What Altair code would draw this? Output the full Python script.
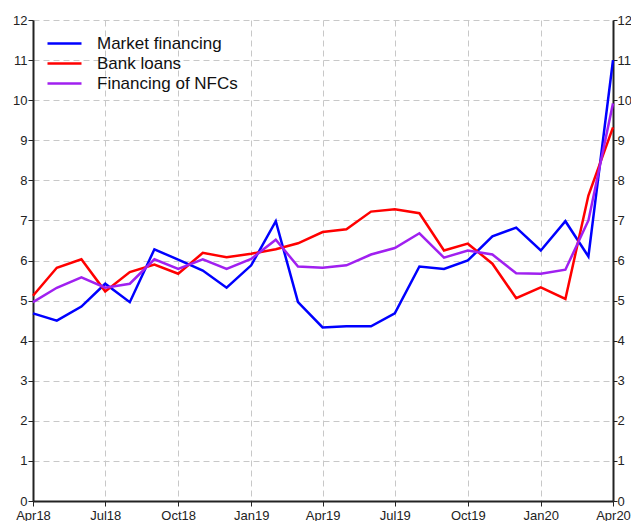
import altair as alt
import pandas as pd

months = [
    "2018-04", "2018-05", "2018-06", "2018-07", "2018-08", "2018-09",
    "2018-10", "2018-11", "2018-12", "2019-01", "2019-02", "2019-03",
    "2019-04", "2019-05", "2019-06", "2019-07", "2019-08", "2019-09",
    "2019-10", "2019-11", "2019-12", "2020-01", "2020-02", "2020-03", "2020-04",
]
market_financing = [4.68, 4.50, 4.85, 5.42, 4.96, 6.28, 6.02, 5.75, 5.32, 5.88, 6.98, 4.96,
                    4.33, 4.36, 4.36, 4.68, 5.85, 5.79, 6.00, 6.60, 6.82, 6.25, 6.98, 6.10, 11.00]
bank_loans = [5.12, 5.82, 6.03, 5.23, 5.71, 5.90, 5.67, 6.19, 6.08, 6.17, 6.28, 6.43,
              6.71, 6.78, 7.22, 7.28, 7.18, 6.25, 6.42, 5.92, 5.06, 5.33, 5.04, 7.62, 9.32]
financing_nfcs = [4.96, 5.32, 5.58, 5.32, 5.42, 6.03, 5.79, 6.03, 5.79, 6.04, 6.52, 5.85,
                  5.82, 5.88, 6.15, 6.31, 6.68, 6.07, 6.25, 6.15, 5.68, 5.67, 5.77, 7.00, 9.92]

series_names = ["Market financing", "Bank loans", "Financing of NFCs"]
series_colors = ["#0000ff", "#ff0000", "#a020f0"]
tick_months = ["2018-04", "2018-07", "2018-10", "2019-01", "2019-04",
               "2019-07", "2019-10", "2020-01", "2020-04"]
y_ticks = list(range(0, 13))

rows = []
for name, vals in zip(series_names, [market_financing, bank_loans, financing_nfcs]):
    for m, v in zip(months, vals):
        rows.append({"date": m + "-01T00:00:00", "series": name, "value": v})
df = pd.DataFrame(rows)


def dt(s):
    y, mo = s.split("-")
    return alt.DateTime(year=int(y), month=int(mo), date=1)


font = "Liberation Sans"
x_enc = alt.X(
    "date:T",
    scale=alt.Scale(domain=[dt(months[0]), dt(months[-1])], nice=False),
    axis=alt.Axis(
        values=[dt(t) for t in tick_months], format="%b%y", title=None,
        grid=True, gridDash=[6, 4], gridColor="#c8c8c8", gridWidth=1,
        domainColor="#222222", domainWidth=2, tickColor="#222222", tickSize=5,
        labelFontSize=13, labelColor="#222222", labelFont=font, labelPadding=3,
        labelOverlap=False, labelFlush=False,
    ),
)

y_scale = alt.Scale(domain=[0, 12], nice=False)
common_axis = dict(
    values=y_ticks, title=None, domainColor="#222222", domainWidth=2,
    tickColor="#222222", labelFontSize=13, labelColor="#222222", labelFont=font,
)

lines = alt.Chart(df).mark_line(strokeWidth=2.5).encode(
    x=x_enc,
    y=alt.Y("value:Q", scale=y_scale,
            axis=alt.Axis(orient="left", grid=True, gridDash=[6, 4],
                          gridColor="#c8c8c8", gridWidth=1, tickSize=5,
                          labelPadding=1, **common_axis)),
    color=alt.Color(
        "series:N",
        scale=alt.Scale(domain=series_names, range=series_colors),
        sort=series_names,
        legend=alt.Legend(
            title=None, orient="none", legendX=20, legendY=12,
            symbolType="M-1.7,0H1.7", symbolSize=400, symbolStrokeWidth=2.5,
            labelFontSize=17, labelFont=font, labelColor="#111111",
            rowPadding=0, labelOffset=21,
        ),
    ),
    order=alt.Order("date:T"),
)

right = alt.Chart(df).mark_line(opacity=0).encode(
    x=x_enc,
    y=alt.Y("value:Q", scale=y_scale,
            axis=alt.Axis(orient="right", grid=False, tickSize=4,
                          labelPadding=0, **common_axis)),
    detail="series:N",
)

chart = (
    alt.layer(lines, right)
    .resolve_axis(y="independent")
    .properties(
        width=580, height=481,
        autosize=alt.AutoSizeParams(type="none"),
        padding={"left": 25, "top": 12, "right": 18, "bottom": 20},
        background="white",
    )
    .configure_view(strokeWidth=0)
)

chart.save("out.html", embed_options={"renderer": "svg", "actions": False})
